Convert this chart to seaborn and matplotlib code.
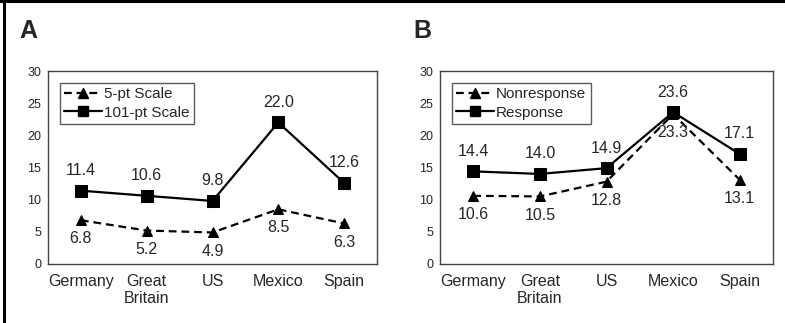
import matplotlib.pyplot as plt
import seaborn as sns
from matplotlib.lines import Line2D

countries = ['Germany', 'Great\nBritain', 'US', 'Mexico', 'Spain']

# panel A
scale5 = [6.8, 5.2, 4.9, 8.5, 6.3]
scale101 = [11.4, 10.6, 9.8, 22.0, 12.6]
# panel B
nonresponse = [10.6, 10.5, 12.8, 23.3, 13.1]
response = [14.4, 14.0, 14.9, 23.6, 17.1]

sns.set_style('white')
plt.rcParams['font.family'] = ['Liberation Sans', 'DejaVu Sans']

fig = plt.figure(figsize=(7.85, 3.23), dpi=100)
axA = fig.add_axes([48/785, 1-264/323, 329/785, 193/323])
axB = fig.add_axes([440/785, 1-264/323, 333/785, 193/323])

dash = (0, (3.5, 2.2))
txt = '#262626'


def draw_panel(ax, low, high, low_name, high_name, letter, letter_x):
    sns.lineplot(x=countries, y=high, ax=ax, color='black', lw=1.6,
                 marker='s', markersize=8, markeredgecolor='black',
                 sort=False, label=high_name)
    sns.lineplot(x=countries, y=low, ax=ax, color='black', lw=1.6,
                 marker='^', markersize=6.5, markeredgecolor='black',
                 linestyle=dash, sort=False, label=low_name)
    for i, v in enumerate(high):
        ax.annotate(f'{v:.1f}', (i, v), xytext=(0, 9), textcoords='offset points',
                    ha='center', va='bottom', fontsize=11.5, color=txt)
    for i, v in enumerate(low):
        ax.annotate(f'{v:.1f}', (i, v), xytext=(0, -8), textcoords='offset points',
                    ha='center', va='top', fontsize=11.5, color=txt)
    ax.set_xlim(-0.5, 4.5)
    ax.set_ylim(0, 30)
    ax.set_yticks([0, 5, 10, 15, 20, 25, 30])
    ax.tick_params(axis='y', labelsize=9, length=0, pad=5, labelcolor=txt)
    ax.tick_params(axis='x', labelsize=11.5, length=0, pad=7, labelcolor=txt)
    ax.set_xlabel('')
    ax.set_ylabel('')
    for s in ax.spines.values():
        s.set_visible(True)
        s.set_color('#444444')
        s.set_linewidth(1.0)
    handles = [
        Line2D([], [], color='black', lw=1.6, linestyle=dash, marker='^', markersize=6.5),
        Line2D([], [], color='black', lw=1.6, marker='s', markersize=7),
    ]
    leg = ax.legend(handles, [low_name, high_name], loc='upper left',
                    bbox_to_anchor=(0.035, 0.94), fontsize=11, frameon=True,
                    fancybox=False, edgecolor='#333333', handlelength=2.5,
                    handletextpad=0.1, borderpad=0.3, labelspacing=0.3,
                    borderaxespad=0.0)
    leg.get_frame().set_linewidth(1.0)
    for t in leg.get_texts():
        t.set_color(txt)
    fig.text(letter_x, 1-31/323, letter, fontsize=18, fontweight='bold',
             ha='left', va='center')


draw_panel(axA, scale5, scale101, '5-pt Scale', '101-pt Scale', 'A', 19/785)
draw_panel(axB, nonresponse, response, 'Nonresponse', 'Response', 'B', 413/785)

# outer frame lines (top and left)
fig.add_artist(Line2D([0, 1], [1-1/323, 1-1/323], transform=fig.transFigure,
                      color='black', lw=2.2))
fig.add_artist(Line2D([4/785, 4/785], [0, 1], transform=fig.transFigure,
                      color='black', lw=2.2))

fig.savefig('out.png', dpi=100)
